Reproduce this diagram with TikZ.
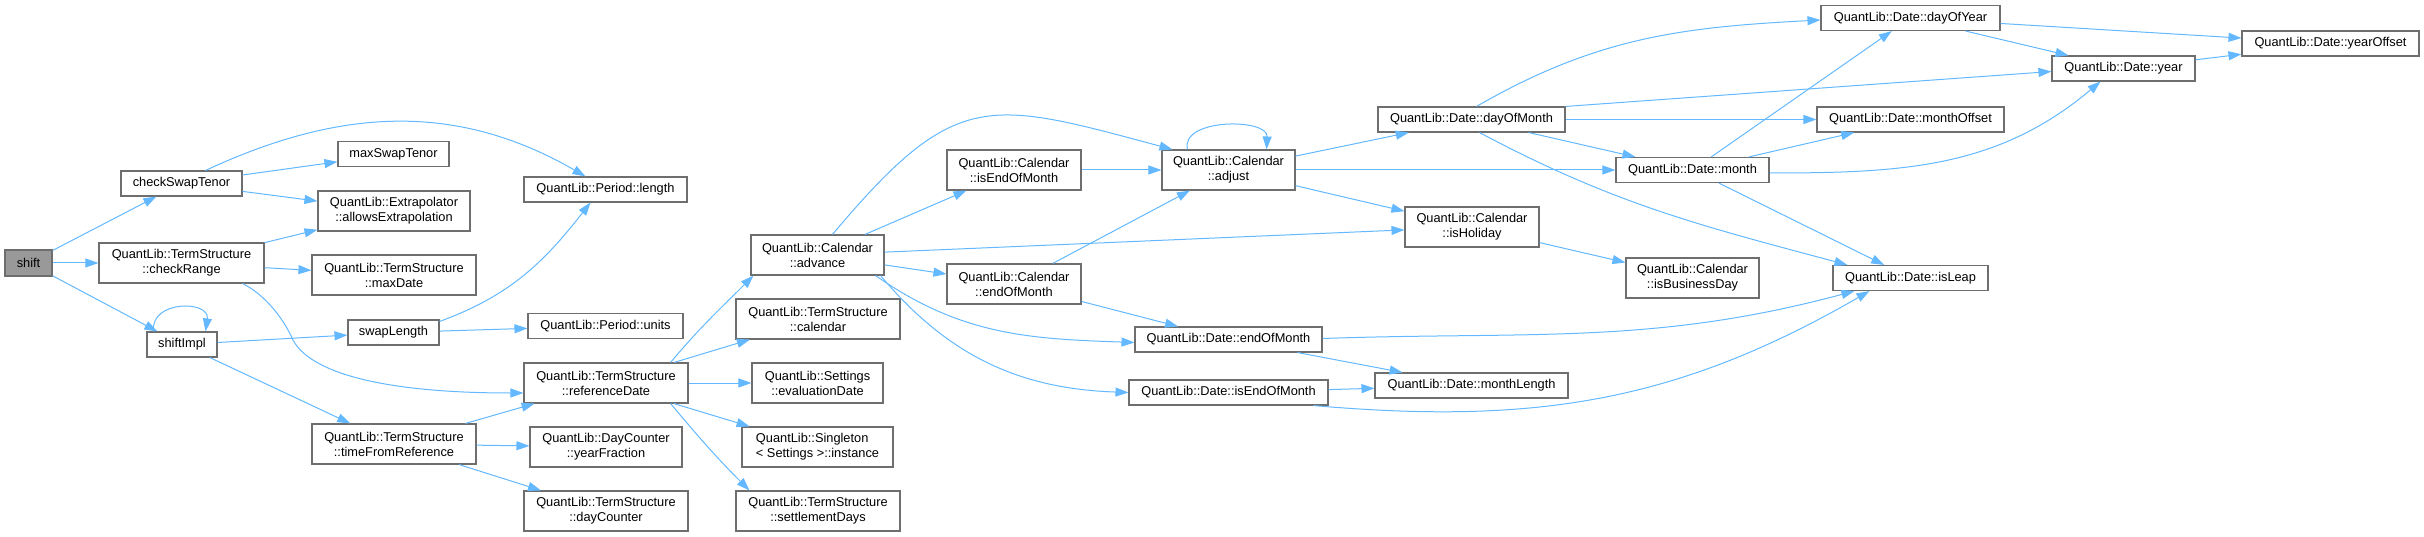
\documentclass[tikz,border=0pt]{standalone}
\usepackage{fontspec}
\usepackage{xcolor}
\usepackage{tikz}
\usetikzlibrary{arrows.meta}
\newfontfamily\dgfont{Liberation Sans}
\definecolor{callblue}{HTML}{63B8FF}
\definecolor{boxline}{HTML}{6E6E6E}
\definecolor{rootfill}{HTML}{999999}

\begin{document}
\begin{tikzpicture}[x=1pt,y=-1pt,
  fn/.style={draw=boxline,line width=1.1pt,fill=white,minimum width=#1,minimum height=25,inner xsep=4pt,inner ysep=0pt,font=\dgfont\fontsize{12.8}{15}\selectfont},
  fnii/.style={fn=#1,minimum height=40,align=center},
  calls/.style={draw=callblue,line width=1pt,-{Triangle[length=13pt,width=9pt]}}]
  \useasboundingbox (0,0) rectangle (2424,537);
  \node[fn=47,fill=rootfill,minimum height=26] (shift) at (28.5,263) {shift};
  \node[fn=121] (checkSwapTenor) at (181.5,183.5) {checkSwapTenor};
  \node[fn=111] (maxSwapTenor) at (393.5,154) {maxSwapTenor};
  \node[fnii=152] (extrapolation) at (394,211) {QuantLib::Extrapolator\\::allowsExtrapolation};
  \node[fnii=165] (checkRange) at (181.5,263) {QuantLib::TermStructure\\::checkRange};
  \node[fnii=164] (maxDate) at (394,275) {QuantLib::TermStructure\\::maxDate};
  \node[fn=70] (shiftImpl) at (182,344.5) {shiftImpl};
  \node[fn=91] (swapLength) at (393.5,332.5) {swapLength};
  \node[fn=163] (length) at (605.5,189.5) {QuantLib::Period::length};
  \node[fn=155] (units) at (605.5,326) {QuantLib::Period::units};
  \node[fnii=164] (referenceDate) at (606,383) {QuantLib::TermStructure\\::referenceDate};
  \node[fnii=164] (timeFromReference) at (394,444) {QuantLib::TermStructure\\::timeFromReference};
  \node[fnii=152] (yearFraction) at (606,447) {QuantLib::DayCounter\\::yearFraction};
  \node[fnii=164] (dayCounter) at (606,511) {QuantLib::TermStructure\\::dayCounter};
  \node[fnii=133] (advance) at (817.5,255) {QuantLib::Calendar\\::advance};
  \node[fnii=164] (calendar) at (818,319) {QuantLib::TermStructure\\::calendar};
  \node[fnii=131] (evaluationDate) at (817.5,383) {QuantLib::Settings\\::evaluationDate};
  \node[fnii=151,align=left] (instance) at (817.5,447) {QuantLib::Singleton\\< Settings >::instance};
  \node[fnii=164] (settlementDays) at (818,511) {QuantLib::TermStructure\\::settlementDays};
  \node[fnii=134] (calIsEndOfMonth) at (1014,170) {QuantLib::Calendar\\::isEndOfMonth};
  \node[fnii=134] (calEndOfMonth) at (1014,284) {QuantLib::Calendar\\::endOfMonth};
  \node[fnii=133] (adjust) at (1228.5,170) {QuantLib::Calendar\\::adjust};
  \node[fn=187] (dateEndOfMonth) at (1228.5,339.5) {QuantLib::Date::endOfMonth};
  \node[fn=199] (dateIsEndOfMonth) at (1228.5,392.5) {QuantLib::Date::isEndOfMonth};
  \node[fn=193] (monthLength) at (1471.5,385.5) {QuantLib::Date::monthLength};
  \node[fn=187] (dayOfMonth) at (1471.5,119.5) {QuantLib::Date::dayOfMonth};
  \node[fnii=134] (isHoliday) at (1472,227) {QuantLib::Calendar\\::isHoliday};
  \node[fn=179] (dayOfYear) at (1910.5,18) {QuantLib::Date::dayOfYear};
  \node[fn=187] (monthOffset) at (1910.5,119.5) {QuantLib::Date::monthOffset};
  \node[fn=153] (month) at (1692.5,170) {QuantLib::Date::month};
  \node[fnii=133] (isBusinessDay) at (1692.5,278) {QuantLib::Calendar\\::isBusinessDay};
  \node[fn=155] (isLeap) at (1910.5,278) {QuantLib::Date::isLeap};
  \node[fn=143] (year) at (2123.5,68.5) {QuantLib::Date::year};
  \node[fn=177] (yearOffset) at (2330.5,43.5) {QuantLib::Date::yearOffset};

  \draw[calls] (shift) -- (checkSwapTenor);
  \draw[calls] (shift) -- (checkRange);
  \draw[calls] (shift) -- (shiftImpl);
  \draw[calls] ([xshift=-37]checkSwapTenor.north east) to[out=25,in=150] ([xshift=-20]length.north);
  \draw[calls] (checkSwapTenor) -- (maxSwapTenor);
  \draw[calls] (checkSwapTenor) -- (extrapolation);
  \draw[calls] (checkRange) -- (extrapolation);
  \draw[calls] (checkRange) -- (maxDate);
  \draw[calls] ([xshift=-22]checkRange.south east) .. controls (262,293) and (282,315) .. (293,340)
    .. controls (310,372) and (380,393) .. ([yshift=-10]referenceDate.west);
  \draw[calls] ([xshift=7]shiftImpl.north west) .. controls (150,300) and (210,300) .. ([xshift=-12]shiftImpl.north east);
  \draw[calls] (shiftImpl) -- (swapLength);
  \draw[calls] (shiftImpl) -- (timeFromReference);
  \draw[calls] ([yshift=-2]swapLength.north east) to[out=20,in=-128] ([xshift=-15]length.south);
  \draw[calls] (swapLength) -- (units);
  \draw[calls] (timeFromReference) -- (referenceDate);
  \draw[calls] (timeFromReference) -- (yearFraction);
  \draw[calls] (timeFromReference) -- (dayCounter);
  \draw[calls] ([xshift=-18]referenceDate.north east) to[out=50,in=-135] ([xshift=3]advance.south west);
  \draw[calls] (referenceDate) -- (calendar);
  \draw[calls] (referenceDate) -- (evaluationDate);
  \draw[calls] (referenceDate) -- (instance);
  \draw[calls] ([xshift=-18]referenceDate.south east) to[out=-50,in=135] ([xshift=14]settlementDays.north west);
  \draw[calls] ([xshift=15]advance.north) to[out=50,in=165,looseness=1.4] ([xshift=11]adjust.north west);
  \draw[calls] (advance) -- (calIsEndOfMonth);
  \draw[calls] (advance) -- (isHoliday);
  \draw[calls] (advance) -- (calEndOfMonth);
  \draw[calls] ([xshift=-9]advance.south east) to[out=-35,in=178] ([yshift=-3]dateEndOfMonth.west);
  \draw[calls] ([xshift=-4]advance.south east) to[out=-50,in=178] (dateIsEndOfMonth.west);
  \draw[calls] (calIsEndOfMonth) -- (adjust);
  \draw[calls] (calEndOfMonth) -- (adjust);
  \draw[calls] (calEndOfMonth) -- (dateEndOfMonth);
  \draw[calls] ([xshift=26]adjust.north west) .. controls (1180,118) and (1268,118) .. ([xshift=-29]adjust.north east);
  \draw[calls] (adjust) -- (dayOfMonth);
  \draw[calls] (adjust) -- (month);
  \draw[calls] (adjust) -- (isHoliday);
  \draw[calls] (isHoliday) -- (isBusinessDay);
  \draw[calls] ([xshift=5]dayOfMonth.north) to[out=30,in=183] ([yshift=-2]dayOfYear.west);
  \draw[calls] (dayOfMonth.north east) -- ([yshift=-3]year.west);
  \draw[calls] (dayOfMonth) -- (monthOffset);
  \draw[calls] (dayOfMonth) -- (month);
  \draw[calls] ([xshift=8]dayOfMonth.south) to[out=-28,in=165] ([xshift=15]isLeap.north west);
  \draw[calls] (month) -- (dayOfYear);
  \draw[calls] (month) -- (monthOffset);
  \draw[calls] ([yshift=-3]month.east) to[out=0,in=-140] ([xshift=-23]year.south);
  \draw[calls] (month) -- (isLeap);
  \draw[calls] (dayOfYear) -- (year);
  \draw[calls] (dayOfYear) -- (yearOffset);
  \draw[calls] (year) -- (yearOffset);
  \draw[calls] (dateEndOfMonth) -- (monthLength);
  \draw[calls] ([yshift=1]dateEndOfMonth.east) to[out=2,in=-165] ([xshift=22]isLeap.south west);
  \draw[calls] (dateIsEndOfMonth) -- (monthLength);
  \draw[calls] ([xshift=-15]dateIsEndOfMonth.south east) to[out=-5,in=-150] ([xshift=37]isLeap.south west);
\end{tikzpicture}
\end{document}
